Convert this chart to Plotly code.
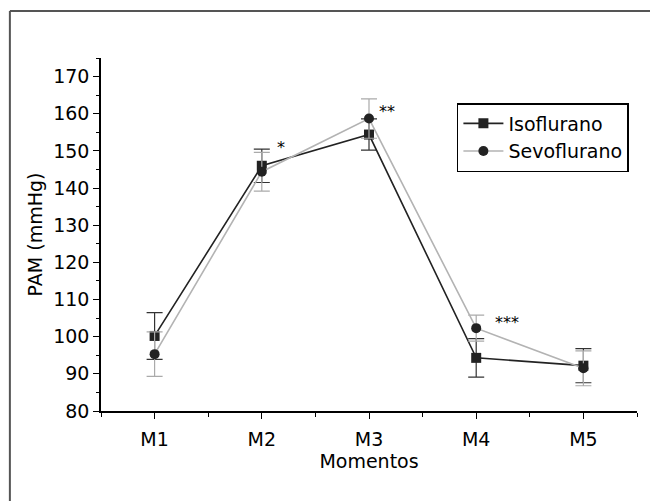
import plotly.graph_objects as go

categories = ["M1", "M2", "M3", "M4", "M5"]
iso_mean = [100.2, 146.0, 154.4, 94.3, 92.2]
iso_err = [6.3, 4.5, 4.2, 5.2, 4.6]
sevo_mean = [95.3, 144.4, 158.7, 102.3, 91.5]
sevo_err = [6.0, 5.2, 5.3, 3.5, 4.7]
sig_labels = ["*", "**", "***"]
sig_x = [1.18, 2.17, 3.29]
sig_y = [151.0, 160.6, 103.9]

FONT = "DejaVu Sans"
xidx = list(range(len(categories)))

fig = go.Figure()
fig.add_trace(go.Scatter(
    x=xidx, y=iso_mean, name="Isoflurano", mode="lines+markers",
    line=dict(color="#222222", width=1.6),
    marker=dict(symbol="square", size=10, color="#222222"),
    error_y=dict(type="data", array=iso_err, visible=True, color="#333333", thickness=1.2, width=8),
))
fig.add_trace(go.Scatter(
    x=xidx, y=sevo_mean, name="Sevoflurano", mode="lines+markers",
    line=dict(color="#b3b3b3", width=1.6),
    marker=dict(symbol="circle", size=10, color="#222222"),
    error_y=dict(type="data", array=sevo_err, visible=True, color="#aaaaaa", thickness=1.2, width=8),
))

for t, x, y in zip(sig_labels, sig_x, sig_y):
    fig.add_annotation(x=x, y=y, text=t, showarrow=False, xref="x", yref="y",
                       font=dict(family=FONT, size=16, color="black"))

# outer frame (top and left edges visible)
fig.add_shape(type="line", xref="paper", yref="paper", x0=-0.17, x1=1.1, y0=1.133, y1=1.133,
              line=dict(color="#555555", width=2))
fig.add_shape(type="line", xref="paper", yref="paper", x0=-0.17, x1=-0.17, y0=1.133, y1=-0.3,
              line=dict(color="#555555", width=2))

fig.update_layout(
    width=650, height=501,
    margin=dict(l=101, r=13, t=58, b=90),
    paper_bgcolor="white", plot_bgcolor="white",
    font=dict(family=FONT, size=19, color="black"),
    showlegend=True,
    legend=dict(x=0.664, y=0.8725, xanchor="left", yanchor="top",
                bgcolor="white", bordercolor="black", borderwidth=1.5,
                font=dict(family=FONT, size=19, color="black"),
                tracegroupgap=0, itemwidth=40),
    xaxis=dict(
        range=[-0.5, 4.5], tickmode="array", tickvals=xidx, ticktext=categories,
        showgrid=False, zeroline=False, showline=True, linecolor="black", linewidth=1.5,
        ticks="outside", ticklen=6, tickwidth=1.2, tickcolor="black",
        minor=dict(tickmode="array", tickvals=[-0.5, 0.5, 1.5, 2.5, 3.5, 4.5],
                   ticks="outside", ticklen=4, tickwidth=1.2, tickcolor="black"),
        title=dict(text="Momentos", font=dict(size=19), standoff=4),
        tickfont=dict(size=19), ticklabelstandoff=4,
    ),
    yaxis=dict(
        range=[80, 175], tickmode="linear", tick0=80, dtick=10,
        showgrid=False, zeroline=False, showline=True, linecolor="black", linewidth=1.5,
        ticks="outside", ticklen=6, tickwidth=1.2, tickcolor="black",
        minor=dict(tick0=80, dtick=5, ticks="outside", ticklen=3, tickwidth=1.2, tickcolor="black"),
        title=dict(text="PAM (mmHg)", font=dict(size=19), standoff=6),
        tickfont=dict(size=19),
    ),
)

fig.write_html("out.html")
